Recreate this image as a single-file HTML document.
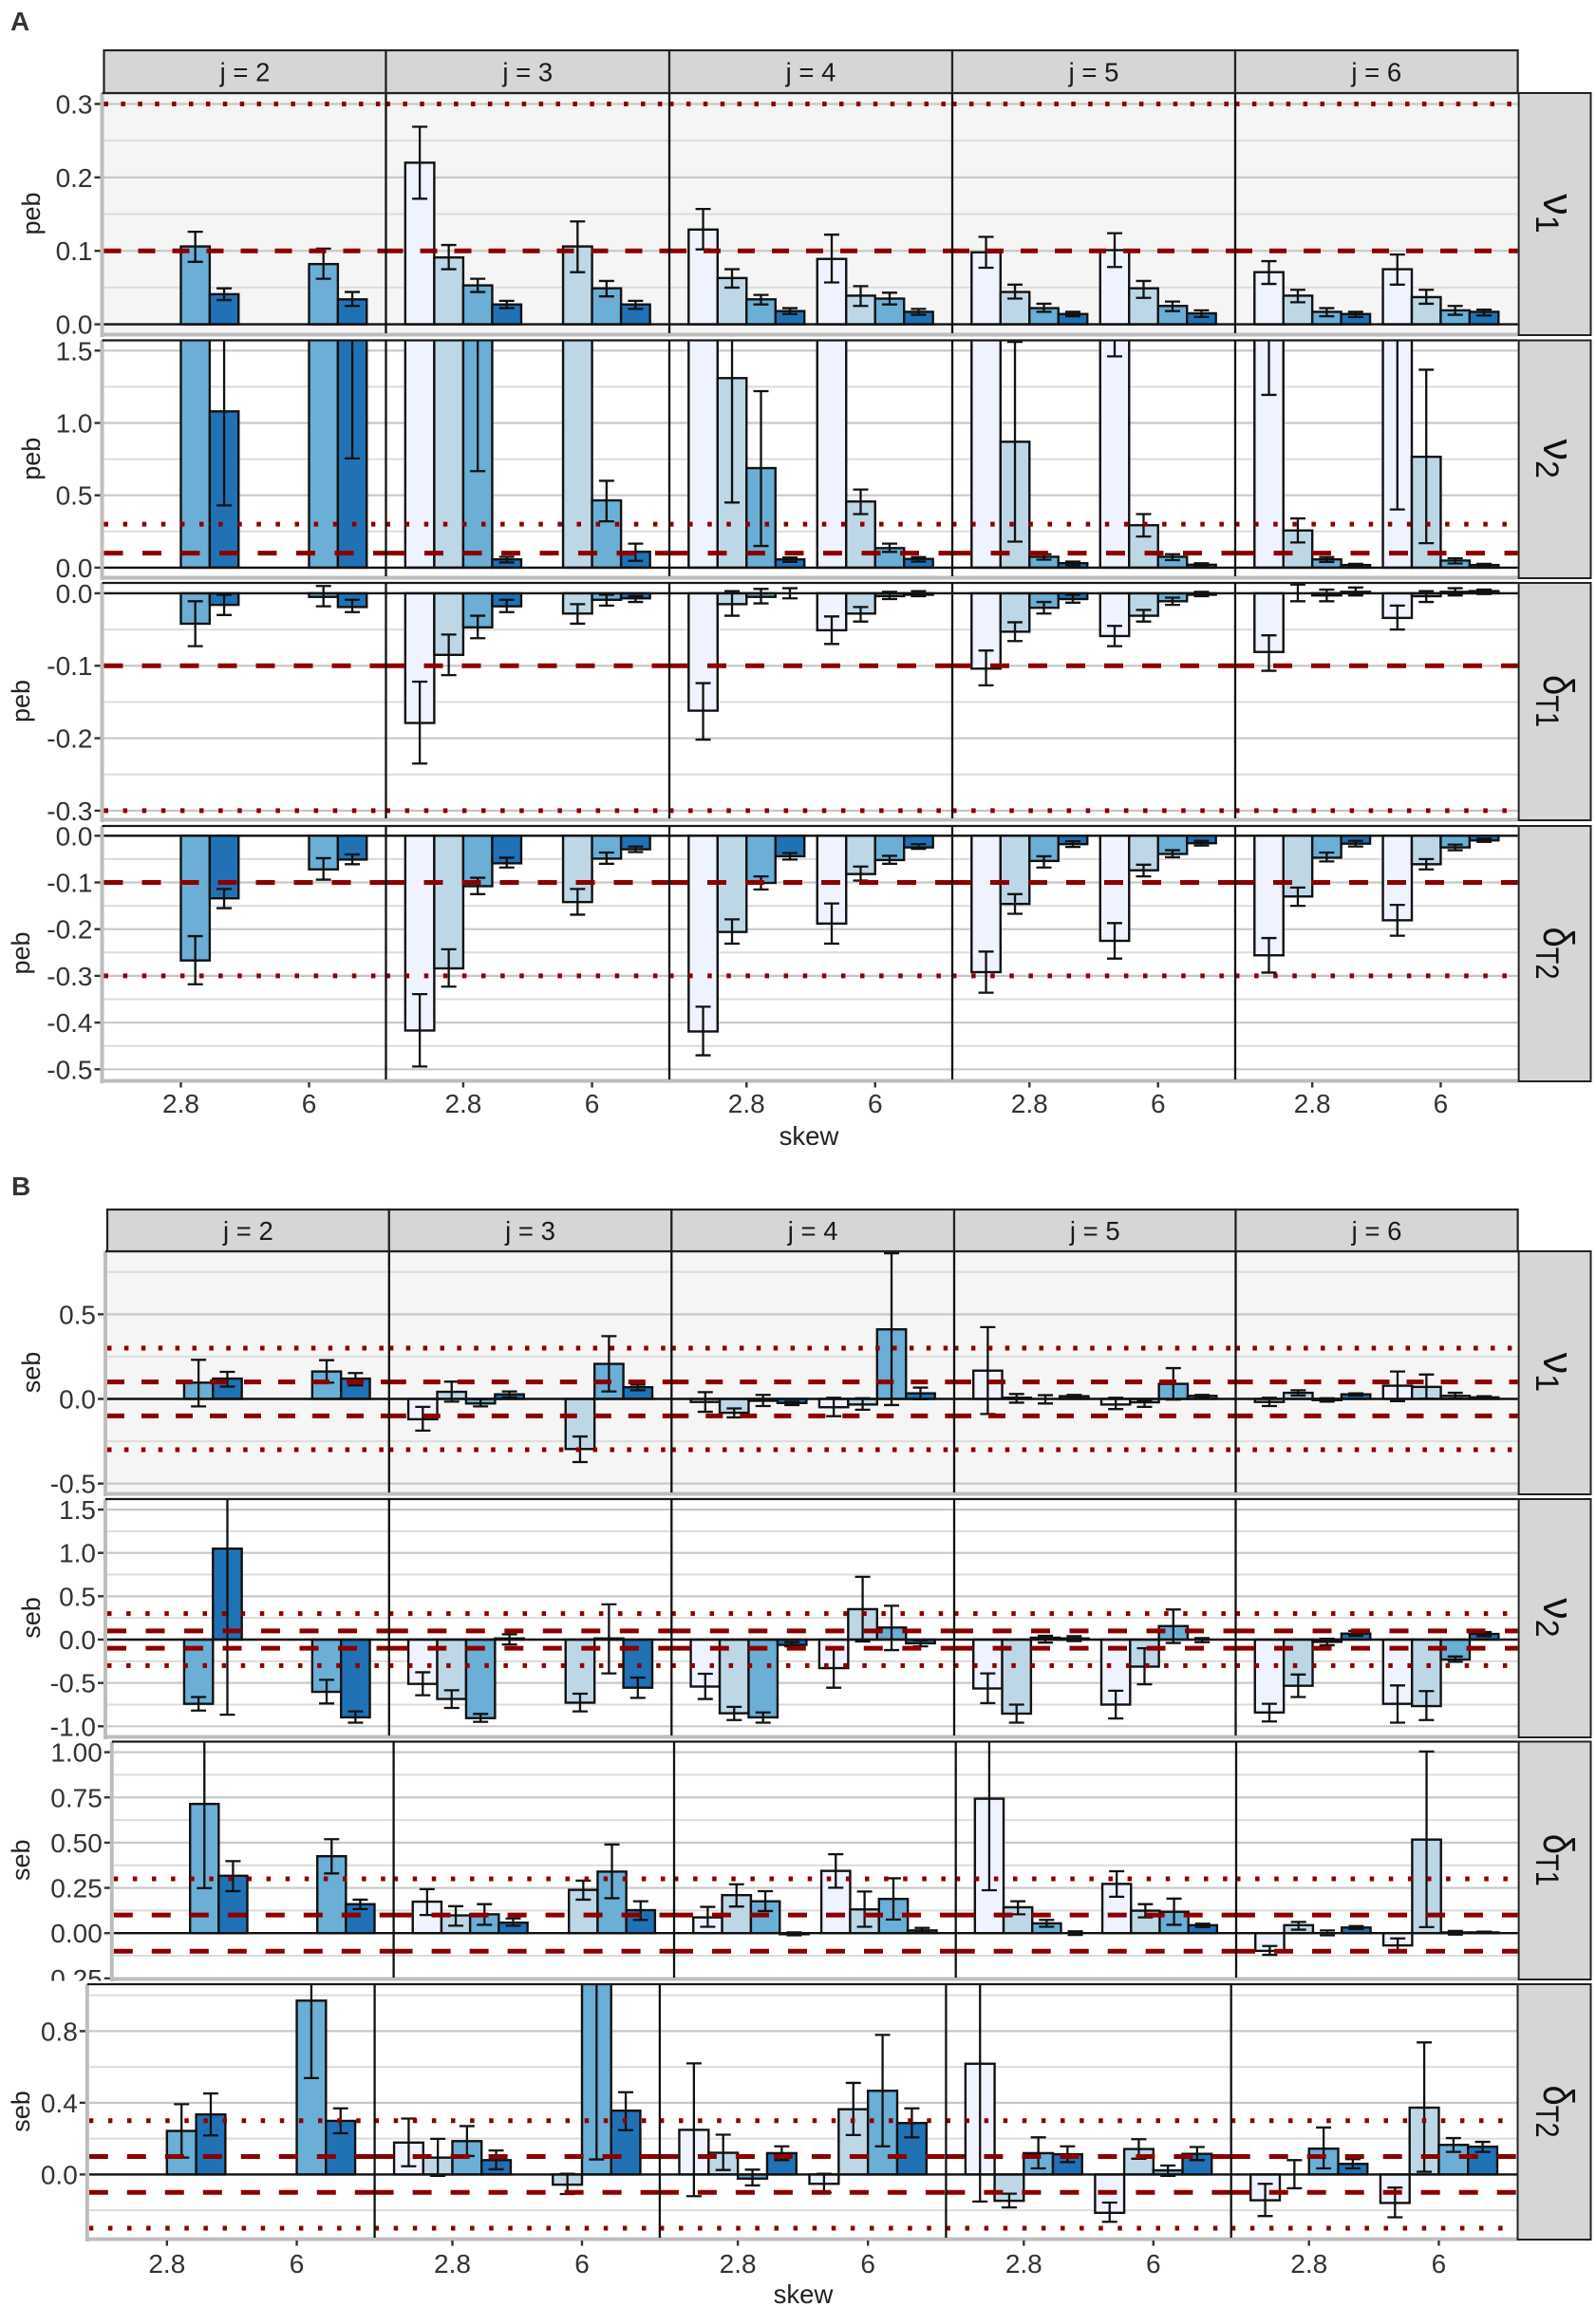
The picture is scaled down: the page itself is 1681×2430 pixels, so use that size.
<!DOCTYPE html>
<html lang="en">
<head>
<meta charset="utf-8">
<title>Parameter bias by skew and j</title>
<style>
html,body{margin:0;padding:0;background:#fff;}
svg{display:block;font-family:"Liberation Sans",sans-serif;}
</style>
</head>
<body>
<svg id="chart" xmlns="http://www.w3.org/2000/svg" width="1681" height="2430" viewBox="0 0 1681 2430">
<rect x="0" y="0" width="1681" height="2430" fill="#ffffff"/>
<text x="11" y="32" font-size="28" font-weight="bold" fill="#333333">A</text>
<text x="12" y="1259" font-size="28" font-weight="bold" fill="#333333">B</text>
</svg>
<script>
// Categories
const columnLabels = ['j = 2', 'j = 3', 'j = 4', 'j = 5', 'j = 6'];
const skewCategories = ['2.8', '6'];
const fillScale = ['#eff3ff', '#bdd7e7', '#6baed6', '#2171b5'];

// Values: column (j) -> skew group -> bar -> [estimate, lower, upper]; null = no bar
const pebNu1 = [
 [[null,null,[.106,.085,.126],[.041,.033,.049]],[null,null,[.082,.062,.103],[.034,.025,.044]]],
 [[[.22,.171,.269],[.091,.075,.108],[.053,.044,.062],[.027,.022,.032]],[null,[.106,.071,.14],[.049,.038,.059],[.027,.021,.032]]],
 [[[.129,.102,.157],[.063,.05,.075],[.034,.027,.04],[.018,.014,.022]],[[.089,.057,.122],[.039,.025,.052],[.035,.027,.043],[.017,.013,.021]]],
 [[[.098,.077,.119],[.044,.035,.054],[.022,.017,.028],[.014,.011,.017]],[[.101,.078,.124],[.049,.036,.059],[.025,.018,.031],[.015,.01,.019]]],
 [[[.071,.055,.086],[.039,.03,.047],[.017,.011,.022],[.014,.01,.017]],[[.075,.054,.095],[.037,.028,.047],[.019,.013,.025],[.017,.012,.02]]]
];
const pebNu2 = [
 [[null,null,[2.5,2.2,2.8],[1.08,.43,2.2]],[null,null,[2.5,2.2,2.8],[2.2,.755,3.2]]],
 [[[2.5,2.2,2.8],[2.5,2.2,2.8],[2.2,.667,3.2],[.057,.036,.075]],[null,[2.5,2.2,2.8],[.465,.32,.6],[.11,.047,.166]]],
 [[[2.5,2.2,2.8],[1.31,.45,2.2],[.688,.15,1.22],[.057,.04,.07]],[[2.5,2.2,2.8],[.457,.37,.54],[.135,.109,.166],[.06,.042,.073]]],
 [[[2.5,2.2,2.8],[.87,.18,1.56],[.075,.055,.093],[.031,.016,.042]],[[2.5,1.46,3.4],[.293,.215,.37],[.075,.052,.093],[.02,.01,.03]]],
 [[[2.5,1.194,3.6],[.257,.174,.34],[.057,.039,.073],[.018,.008,.026]],[[2.5,.402,4.4],[.766,.169,1.368],[.049,.029,.065],[.018,.008,.026]]]
];
const pebDeltaT1 = [
 [[null,null,[-.042,-.073,-.011],[-.016,-.03,-.002]],[null,null,[-.005,-.018,.01],[-.019,-.026,-.009]]],
 [[[-.179,-.235,-.122],[-.085,-.113,-.057],[-.047,-.062,-.031],[-.018,-.026,-.009]],[null,[-.028,-.042,-.015],[-.009,-.017,-.002],[-.007,-.012,-.004]]],
 [[[-.162,-.202,-.124],[-.015,-.031,.003],[-.005,-.014,.006],[0,-.007,.007]],[[-.051,-.07,-.032],[-.028,-.039,-.019],[-.004,-.008,.002],[-.002,-.004,.003]]],
 [[[-.104,-.127,-.079],[-.053,-.066,-.04],[-.02,-.028,-.012],[-.008,-.013,-.002]],[[-.059,-.073,-.045],[-.031,-.039,-.023],[-.011,-.016,-.006],[-.002,-.004,.002]]],
 [[[-.081,-.107,-.058],[0,-.011,.012],[-.003,-.011,.005],[.002,-.003,.008]],[[-.034,-.05,-.017],[-.004,-.012,.003],[.002,-.003,.007],[.003,-.001,.005]]]
];
const pebDeltaT2 = [
 [[null,null,[-.267,-.318,-.215],[-.134,-.155,-.114]],[null,null,[-.072,-.094,-.048],[-.051,-.061,-.04]]],
 [[[-.417,-.494,-.339],[-.284,-.323,-.243],[-.108,-.125,-.09],[-.059,-.068,-.047]],[null,[-.142,-.169,-.114],[-.049,-.06,-.036],[-.029,-.035,-.023]]],
 [[[-.419,-.47,-.366],[-.206,-.231,-.179],[-.101,-.115,-.087],[-.044,-.051,-.037]],[[-.188,-.231,-.145],[-.082,-.096,-.066],[-.052,-.06,-.043],[-.025,-.028,-.018]]],
 [[[-.292,-.336,-.248],[-.146,-.167,-.125],[-.054,-.068,-.044],[-.018,-.024,-.012]],[[-.225,-.263,-.187],[-.074,-.087,-.062],[-.039,-.046,-.031],[-.016,-.021,-.011]]],
 [[[-.256,-.293,-.219],[-.13,-.15,-.111],[-.047,-.055,-.036],[-.017,-.023,-.011]],[[-.181,-.214,-.148],[-.061,-.072,-.05],[-.025,-.031,-.019],[-.01,-.013,-.006]]]
];
const sebNu1 = [
 [[null,null,[.096,-.044,.231],[.12,.073,.16]],[null,null,[.162,.096,.229],[.12,.08,.153]]],
 [[[-.12,-.187,-.047],[.042,-.016,.102],[-.027,-.044,-.002],[.027,.009,.044]],[null,[-.296,-.373,-.222],[.207,.044,.371],[.069,.051,.084]]],
 [[[-.018,-.076,.04],[-.082,-.109,-.056],[-.011,-.042,.024],[-.024,-.036,-.016]],[[-.049,-.102,.007],[-.033,-.064,.004],[.411,-.036,.86],[.033,-.002,.067]]],
 [[[.167,-.089,.424],[.007,-.022,.029],[0,-.027,.022],[.016,.004,.024]],[[-.033,-.06,.007],[-.02,-.047,-.011],[.089,-.004,.182],[.018,.007,.024]]],
 [[[-.018,-.042,.007],[.036,.02,.051],[-.007,-.016,.004],[.027,.02,.033]],[[.078,-.013,.162],[.071,.002,.144],[.018,.002,.036],[.009,.002,.016]]]
];
const sebNu2 = [
 [[null,null,[-.741,-.819,-.663],[1.049,-.867,2.4]],[null,null,[-.603,-.737,-.464],[-.897,-.958,-.828]]],
 [[[-.511,-.642,-.377],[-.685,-.789,-.585],[-.906,-.949,-.858],[.013,-.056,.061]],[null,[-.728,-.828,-.624],[.013,-.39,.407],[-.555,-.672,-.438]]],
 [[[-.542,-.685,-.394],[-.85,-.928,-.776],[-.897,-.958,-.841],[-.061,-.078,-.03]],[[-.329,-.555,-.104],[.351,-.022,.724],[.139,-.121,.39],[-.043,-.078,-.009]]],
 [[[-.564,-.733,-.39],[-.854,-.958,-.75],[.022,-.035,.043],[.013,-.017,.039]],[[-.75,-.91,-.59],[-.312,-.516,-.1],[.156,-.039,.347],[0,-.03,.017]]],
 [[[-.841,-.945,-.741],[-.533,-.663,-.403],[-.026,-.065,.009],[.069,.043,.1]],[[-.741,-.958,-.529],[-.767,-.928,-.594],[-.23,-.256,-.195],[.065,.039,.087]]]
];
const sebDeltaT1 = [
 [[null,null,[.714,.249,1.3],[.317,.232,.398]],[null,null,[.425,.33,.519],[.16,.133,.185]]],
 [[[.174,.1,.243],[.098,.041,.149],[.104,.046,.16],[.058,.041,.081]],[null,[.239,.185,.29],[.34,.193,.49],[.127,.073,.176]]],
 [[[.087,.035,.145],[.21,.147,.27],[.176,.122,.232],[-.006,-.012,.004]],[[.344,.251,.436],[.131,.035,.23],[.189,.075,.303],[.015,.002,.029]]],
 [[[.743,.237,1.3],[.143,.104,.176],[.054,.035,.073],[0,-.01,.01]],[[.272,.201,.342],[.124,.087,.16],[.118,.046,.191],[.044,.033,.052]]],
 [[[-.098,-.12,-.071],[.044,.019,.062],[0,-.012,.015],[.031,.023,.039]],[[-.068,-.106,-.029],[.517,.033,1.004],[.004,-.008,.012],[.004,0,.008]]]
];
const sebDeltaT2 = [
 [[null,null,[.243,.094,.392],[.335,.218,.452]],[null,null,[.97,.538,1.4],[.299,.23,.369]]],
 [[[.178,.046,.312],[.094,-.008,.199],[.186,.103,.27],[.08,.029,.134]],[null,[-.057,-.109,.004],[1.3,.084,2.5],[.356,.247,.459]]],
 [[[.249,-.121,.62],[.121,.025,.222],[-.023,-.061,.027],[.119,.08,.157]],[[-.052,-.101,.004],[.364,.22,.511],[.467,.157,.779],[.287,.207,.369]]],
 [[[.618,-.151,1.4],[-.147,-.184,-.107],[.119,.034,.207],[.113,.069,.157]],[[-.214,-.264,-.157],[.142,.088,.197],[.023,-.008,.05],[.115,.08,.153]]],
 [[[-.144,-.232,-.052],[0,-.077,.08],[.144,.034,.262],[.059,.034,.086]],[[-.159,-.239,-.073],[.373,.015,.737],[.165,.126,.203],[.155,.126,.182]]]
];

// Tick values and labels per panel
const ticksPebNu1 = [0, .1, .2, .3];
const labelsPebNu1 = ['0.0', '0.1', '0.2', '0.3'];
const minorPebNu1 = [.05, .15, .25];
const ticksPebNu2 = [0, .5, 1, 1.5];
const labelsPebNu2 = ['0.0', '0.5', '1.0', '1.5'];
const minorPebNu2 = [.25, .75, 1.25];
const ticksPebT1 = [0, -.1, -.2, -.3];
const labelsPebT1 = ['0.0', '-0.1', '-0.2', '-0.3'];
const minorPebT1 = [-.05, -.15, -.25];
const ticksPebT2 = [0, -.1, -.2, -.3, -.4, -.5];
const labelsPebT2 = ['0.0', '-0.1', '-0.2', '-0.3', '-0.4', '-0.5'];
const minorPebT2 = [-.05, -.15, -.25, -.35, -.45];
const ticksSebNu1 = [-.5, 0, .5];
const labelsSebNu1 = ['-0.5', '0.0', '0.5'];
const minorSebNu1 = [-.25, .25, .75];
const ticksSebNu2 = [-1, -.5, 0, .5, 1, 1.5];
const labelsSebNu2 = ['-1.0', '-0.5', '0.0', '0.5', '1.0', '1.5'];
const minorSebNu2 = [-.75, -.25, .25, .75, 1.25];
const ticksSebT1 = [-.25, 0, .25, .5, .75, 1];
const labelsSebT1 = ['0.25', '0.00', '0.25', '0.50', '0.75', '1.00'];
const minorSebT1 = [-.125, .125, .375, .625, .875];
const ticksSebT2 = [0, .4, .8];
const labelsSebT2 = ['0.0', '0.4', '0.8'];
const minorSebT2 = [-.2, .2, .6, 1];

// Reference lines
const dashedPositive = [.1];
const dottedPositive = [.3];
const dashedNegative = [-.1];
const dottedNegative = [-.3];
const dashedBoth = [-.1, .1];
const dottedBoth = [-.3, .3];

// Layout (pixels), kept separate from the data
const colsA = [109.5, 406.5, 705, 1003, 1301, 1598.6];
const colsB12 = [113, 409.8, 707.3, 1005, 1301.5, 1598.6];
const colsB3 = [119.8, 414.6, 710, 1006.7, 1302, 1598.6];
const colsB4 = [93.8, 394.6, 694.9, 996.4, 1296.7, 1597.5];
const panels = [
 {id:'peb-nu1', data:pebNu1, title:'peb', main:'ν', sub:'1', squeeze:1, ticks:ticksPebNu1, labels:labelsPebNu1, minor:minorPebNu1, dashed:dashedPositive, dotted:dottedPositive, cols:colsA, top:98, bottom:352, zero:341.6, unit:773.7, bg:'#f5f5f5', titleX:33, dash:[18,18], dot:[4.5,13.4]},
 {id:'peb-nu2', data:pebNu2, title:'peb', main:'ν', sub:'2', squeeze:1, ticks:ticksPebNu2, labels:labelsPebNu2, minor:minorPebNu2, dashed:dashedPositive, dotted:dottedPositive, cols:colsA, top:358.5, bottom:608, zero:597.9, unit:152.4, bg:'#ffffff', titleX:33, dash:[20,20.5], dot:[4.5,15.6]},
 {id:'peb-dt1', data:pebDeltaT1, title:'peb', main:'δ', sub:'T1', squeeze:.85, ticks:ticksPebT1, labels:labelsPebT1, minor:minorPebT1, dashed:dashedNegative, dotted:dottedNegative, cols:colsA, top:614, bottom:863, zero:624.9, unit:763.3, bg:'#ffffff', titleX:22, dash:[20,20], dot:[4.5,15.6]},
 {id:'peb-dt2', data:pebDeltaT2, title:'peb', main:'δ', sub:'T2', squeeze:.85, ticks:ticksPebT2, labels:labelsPebT2, minor:minorPebT2, dashed:dashedNegative, dotted:dottedNegative, cols:colsA, top:870, bottom:1138, zero:880.3, unit:492, bg:'#ffffff', titleX:22, dash:[20,20], dot:[4.5,15.6], xAxis:{tickLabelY:1172, title:'skew', titleX:852, titleY:1206}},
 {id:'seb-nu1', data:sebNu1, title:'seb', main:'ν', sub:'1', squeeze:1, ticks:ticksSebNu1, labels:labelsSebNu1, minor:minorSebNu1, dashed:dashedBoth, dotted:dottedBoth, cols:colsB12, top:1318, bottom:1573, zero:1473.5, unit:178.3, bg:'#f5f5f5', titleX:33, dash:[18,18], dot:[4.5,13.4]},
 {id:'seb-nu2', data:sebNu2, title:'seb', main:'ν', sub:'2', squeeze:1, ticks:ticksSebNu2, labels:labelsSebNu2, minor:minorSebNu2, dashed:dashedBoth, dotted:dottedBoth, cols:colsB12, top:1579, bottom:1829, zero:1727, unit:91.3, bg:'#ffffff', titleX:33, dash:[20,20.5], dot:[4.5,15.6]},
 {id:'seb-dt1', data:sebDeltaT1, title:'seb', main:'δ', sub:'T1', squeeze:.85, ticks:ticksSebT1, labels:labelsSebT1, minor:minorSebT1, dashed:dashedBoth, dotted:dottedBoth, cols:colsB3, top:1834.5, bottom:2084, zero:2036.2, unit:190.6, bg:'#ffffff', titleX:22, dash:[20,20], dot:[4.5,15.6]},
 {id:'seb-dt2', data:sebDeltaT2, title:'seb', main:'δ', sub:'T2', squeeze:.85, ticks:ticksSebT2, labels:labelsSebT2, minor:minorSebT2, dashed:dashedBoth, dotted:dottedBoth, cols:colsB4, top:2090, bottom:2358, zero:2290.4, unit:188.75, bg:'#ffffff', titleX:22, dash:[20,20], dot:[4.5,15.6], xAxis:{tickLabelY:2394, title:'skew', titleX:846, titleY:2426}}
];
const stripRows = [
 {cols:colsA, top:53, bottom:98},
 {cols:colsB12, top:1274, bottom:1318}
];

const svg = document.getElementById('chart');
const NS = 'http://www.w3.org/2000/svg';
function make(tag, attrs, parent) {
  const node = document.createElementNS(NS, tag);
  for (const key in attrs) node.setAttribute(key, attrs[key]);
  parent.appendChild(node);
  return node;
}
const defs = make('defs', {}, svg);

function drawPanel(p) {
  const yOf = v => p.zero - v * p.unit;
  const col0 = p.cols[0];
  const colEnd = p.cols[p.cols.length - 1];
  const panelGroup = make('g', {}, svg);
  
  

  const bg = make('rect', {x:col0, y:p.top, width:colEnd - col0, height:p.bottom - p.top, fill:p.bg}, panelGroup);
  
  

  p.minor.forEach(v => {
    const y = yOf(v);
    if (y < p.top || y > p.bottom) return;
    const line = make('line', {x1:col0, x2:colEnd, y1:y, y2:y, stroke:'#dcdcdc', 'stroke-width':2}, panelGroup);
    
    
  });
  p.ticks.forEach(v => {
    const y = yOf(v);
    if (y < p.top - 1 || y > p.bottom + 1) return;
    const line = make('line', {x1:col0, x2:colEnd, y1:y, y2:y, stroke:'#c8c8c8', 'stroke-width':2.2}, panelGroup);
    
    
  });

  p.data.forEach((column, c) => {
    const x0 = p.cols[c];
    const width = p.cols[c + 1] - x0;
    const band = width / 2.2;
    const clipId = 'clip-' + p.id + '-' + c;
    const clip = make('clipPath', {id:clipId}, defs);
    make('rect', {x:x0, y:p.top, width:width, height:p.bottom - p.top}, clip);
    const facet = make('g', {'clip-path':'url(#' + clipId + ')'}, panelGroup);
    
    
    const barWidth = band * 0.225;

    column.forEach((group, g) => {
      const center = x0 + band * (0.6 + g);
      group.forEach((bar, b) => {
        if (!bar) return;
        const left = center + (b - 2) * barWidth;
        const yv = yOf(bar[0]);
        const y0 = yOf(0);
        const rect = make('rect', {x:left, y:Math.min(yv, y0), width:barWidth, height:Math.abs(yv - y0), fill:fillScale[b], stroke:'#111111', 'stroke-width':2.4}, facet);
        
        
      });
    });
    column.forEach((group, g) => {
      const center = x0 + band * (0.6 + g);
      group.forEach((bar, b) => {
        if (!bar) return;
        const mid = center + (b - 1.5) * barWidth;
        const d = 'M' + (mid - 8) + ' ' + yOf(bar[2]) + 'H' + (mid + 8) + 'M' + mid + ' ' + yOf(bar[2]) + 'V' + yOf(bar[1]) + 'M' + (mid - 8) + ' ' + yOf(bar[1]) + 'H' + (mid + 8);
        const err = make('path', {d:d, fill:'none', stroke:'#111111', 'stroke-width':2.3}, facet);
        
        
      });
    });

    const zeroLine = make('line', {x1:x0, x2:x0 + width, y1:yOf(0), y2:yOf(0), stroke:'#111111', 'stroke-width':2.4}, facet);
    
    

    p.dashed.forEach(v => {
      const line = make('line', {x1:x0, x2:x0 + width, y1:yOf(v), y2:yOf(v), stroke:'#8b0000', 'stroke-width':5, 'stroke-dasharray':p.dash.join(' ')}, facet);
      
      
    });
    p.dotted.forEach(v => {
      const line = make('line', {x1:x0, x2:x0 + width, y1:yOf(v), y2:yOf(v), stroke:'#8b0000', 'stroke-width':5, 'stroke-dasharray':p.dot.join(' ')}, facet);
      
      
    });
  });

  const leftBand = make('rect', {x:col0 - 4, y:p.top, width:4, height:p.bottom - p.top + 3, fill:'#bdbdbd'}, panelGroup);
  
  
  const bottomBand = make('rect', {x:col0 - 4, y:p.bottom - 1.5, width:colEnd - col0 + 4, height:4, fill:'#bdbdbd'}, panelGroup);
  
  
  const topLine = make('line', {x1:col0 - 2, x2:colEnd, y1:p.top, y2:p.top, stroke:'#1a1a1a', 'stroke-width':2.2}, panelGroup);
  
  
  p.cols.slice(1, -1).forEach(x => {
    const sep = make('line', {x1:x, x2:x, y1:p.top, y2:p.bottom - 1, stroke:'#111111', 'stroke-width':2.3}, panelGroup);
    
    
  });

  p.ticks.forEach((v, i) => {
    const y = yOf(v);
    const tick = make('line', {x1:col0 - 10, x2:col0 - 4, y1:y, y2:y, stroke:'#333333', 'stroke-width':2.4}, panelGroup);
    
    
    const label = make('text', {x:col0 - 12, y:y + 10, 'text-anchor':'end', 'font-size':28, fill:'#333333'}, panelGroup);
    
    
    label.textContent = p.labels[i];
  });

  const midY = (p.top + p.bottom) / 2;
  const title = make('text', {transform:'translate(' + (p.titleX + 9) + ',' + midY + ') rotate(-90)', 'text-anchor':'middle', 'font-size':27, fill:'#222222'}, panelGroup);
  
  
  title.textContent = p.title;

  const strip = make('rect', {x:colEnd + 1, y:p.top, width:1675.5 - colEnd - 1, height:p.bottom - p.top + 1, fill:'#d6d6d6', stroke:'#222222', 'stroke-width':2}, panelGroup);
  
  
  const stripText = make('text', {transform:'translate(1626,' + midY + ') rotate(90) scale(' + p.squeeze + ',1)', 'text-anchor':'middle', fill:'#111111'}, panelGroup);
  
  
  const mainSpan = make('tspan', {'font-size':45}, stripText);
  mainSpan.textContent = p.main;
  const subSpan = make('tspan', {'font-size':34, dy:8}, stripText);
  subSpan.textContent = p.sub;

  if (p.xAxis) {
    p.cols.slice(0, -1).forEach((x0, c) => {
      const band = (p.cols[c + 1] - x0) / 2.2;
      skewCategories.forEach((cat, g) => {
        const x = x0 + band * (0.6 + g);
        const tick = make('line', {x1:x, x2:x, y1:p.bottom + 2, y2:p.bottom + 7.5, stroke:'#333333', 'stroke-width':2.4}, panelGroup);
        
        
        const label = make('text', {x:x, y:p.xAxis.tickLabelY, 'text-anchor':'middle', 'font-size':28, fill:'#333333'}, panelGroup);
        
        
        label.textContent = cat;
      });
    });
    const xTitle = make('text', {x:p.xAxis.titleX, y:p.xAxis.titleY, 'text-anchor':'middle', 'font-size':27.5, fill:'#222222'}, panelGroup);
    
    
    xTitle.textContent = p.xAxis.title;
  }
}

panels.forEach(drawPanel);

// The bottom panel of B overlaps the cut-off tick label of the panel above
const coverRow = panels[7];
const cover = make('rect', {x:40, y:2086.5, width:panels[6].cols[0] - 44, height:2.5, fill:'#ffffff'}, svg);


const coverLower = make('rect', {x:40, y:2089, width:coverRow.cols[0] - 44, height:21, fill:'#ffffff'}, svg);



stripRows.forEach(s => {
  columnLabels.forEach((label, c) => {
    const x0 = s.cols[c];
    const x1 = s.cols[c + 1];
    const rect = make('rect', {x:x0, y:s.top, width:x1 - x0, height:s.bottom - s.top, fill:'#d6d6d6', stroke:'#222222', 'stroke-width':2.2}, svg);
    
    
    const text = make('text', {x:(x0 + x1) / 2, y:(s.top + s.bottom) / 2 + 10, 'text-anchor':'middle', 'font-size':27.5, fill:'#1a1a1a'}, svg);
    
    
    text.textContent = label;
  });
});
</script>
</body>
</html>
